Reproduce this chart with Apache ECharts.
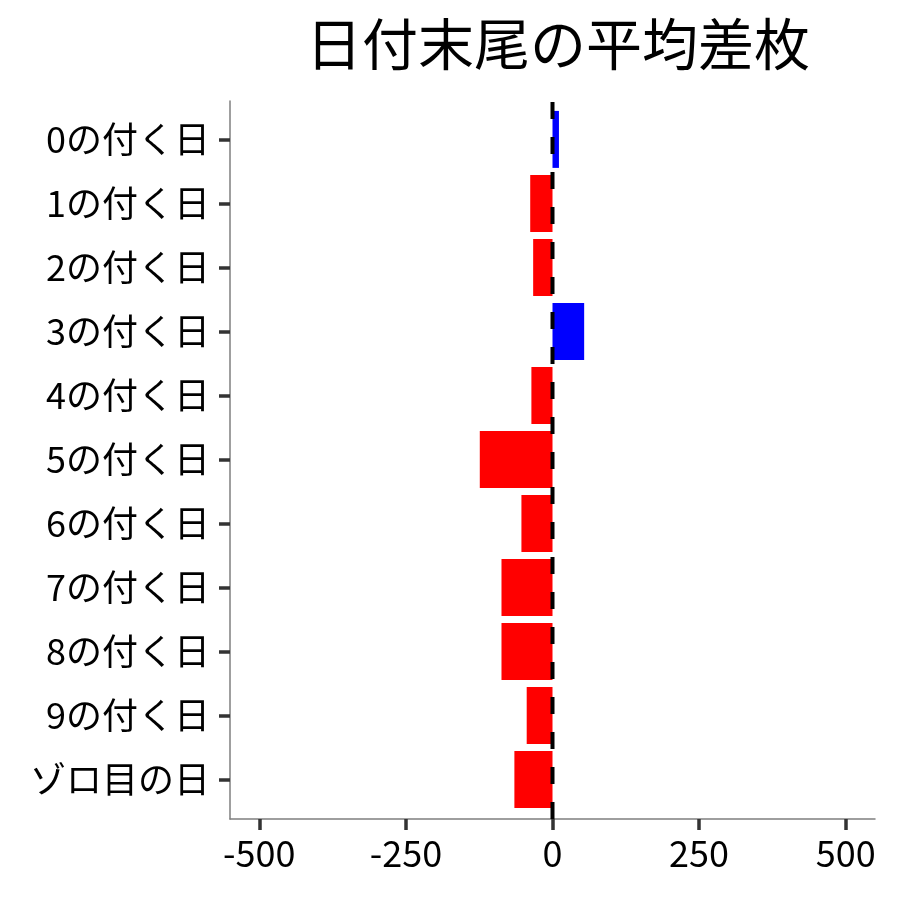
<!DOCTYPE html>
<html>
<head>
<meta charset="utf-8">
<script src="https://cdn.jsdelivr.net/npm/echarts@6/dist/echarts.min.js"></script>
<style>
  html, body { margin: 0; padding: 0; background: #fff; }
  #main { width: 900px; height: 900px; }
</style>
</head>
<body>
<div id="main"></div>
<script>
// データ
const categories = ['0の付く日', '1の付く日', '2の付く日', '3の付く日', '4の付く日',
  '5の付く日', '6の付く日', '7の付く日', '8の付く日', '9の付く日', 'ゾロ目の日'];
const avgDiff = [11, -38, -33, 54, -36, -124, -53, -87, -87, -44, -65];
const xTicks = [-500, -250, 0, 250, 500];
const titleText = '日付末尾の平均差枚';

const FONT = 'Noto Sans CJK JP';
const chart = echarts.init(document.getElementById('main'));

const option = {
  animation: false,
  title: {
    text: titleText,
    left: 553,
    top: 11,
    textAlign: 'center',
    textStyle: { fontFamily: FONT, fontSize: 56, fontWeight: 'normal', color: '#000' }
  },
  grid: [
    // 棒グラフ用（カテゴリ幅を ggplot の余白に合わせる）
    { left: 230, right: 25, top: 107.4, bottom: 88.4 },
    // 軸線・目盛り用
    { left: 230, right: 25, top: 101, bottom: 81 }
  ],
  xAxis: [
    { gridIndex: 0, type: 'value', min: -550, max: 550, show: false },
    {
      gridIndex: 1, type: 'value', min: -550, max: 550,
      axisLine: { show: true, onZero: false, lineStyle: { color: '#7f7f7f', width: 1.5 } },
      axisTick: { show: true, customValues: xTicks, length: 11, lineStyle: { color: '#333', width: 3.5 } },
      axisLabel: { customValues: xTicks, fontFamily: FONT, fontSize: 36, color: '#000', margin: 16 },
      splitLine: { show: false }
    }
  ],
  yAxis: [
    {
      gridIndex: 0, type: 'category', data: categories, inverse: true,
      axisLine: { show: false, onZero: false },
      axisTick: { show: true, alignWithLabel: true, length: 11, lineStyle: { color: '#333', width: 3.5 } },
      axisLabel: { fontFamily: FONT, fontSize: 36, color: '#000', margin: 20 },
      splitLine: { show: false }
    },
    {
      gridIndex: 1, type: 'value', min: 0, max: 1,
      axisLine: { show: true, onZero: false, lineStyle: { color: '#7f7f7f', width: 1.5 } },
      axisTick: { show: false }, axisLabel: { show: false }, splitLine: { show: false }
    }
  ],
  series: [
    {
      type: 'bar',
      xAxisIndex: 0, yAxisIndex: 0,
      barWidth: '89%',
      data: avgDiff.map(v => ({
        value: v,
        itemStyle: { color: v >= 0 ? '#0000ff' : '#ff0000' }
      })),
      z: 2
    },
    {
      // x = 0 の破線
      type: 'line',
      xAxisIndex: 1, yAxisIndex: 1,
      data: [[0, 0], [0, 1]],
      symbol: 'none',
      lineStyle: { color: '#000', width: 4, type: [17, 18] },
      z: 5
    }
  ]
};
chart.setOption(option);
</script>
</body>
</html>
